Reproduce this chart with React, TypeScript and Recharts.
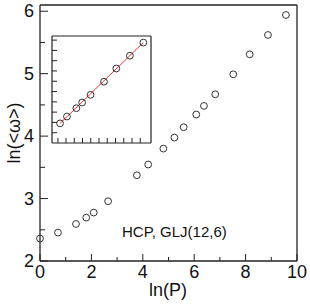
import { ScatterChart, Scatter, XAxis, YAxis } from 'recharts';

// ln(P) vs ln(<omega>), main panel
const lnP = [0, 0.7, 1.4, 1.8, 2.09, 2.65, 3.77, 4.21, 4.8, 5.23, 5.59, 6.08, 6.38, 6.82, 7.52, 8.16, 8.87, 9.57];
const lnW = [2.36, 2.455, 2.593, 2.695, 2.776, 2.957, 3.373, 3.545, 3.8, 3.977, 4.143, 4.346, 4.484, 4.67, 4.99, 5.31, 5.62, 5.94];

// inset: high pressure points with fitted line
const insetP = [5.23, 5.59, 6.08, 6.38, 6.82, 7.52, 8.16, 8.87, 9.57];
const insetW = [3.977, 4.143, 4.346, 4.484, 4.67, 4.99, 5.31, 5.62, 5.94];
const fitP = [5.23, 9.57];
const fitW = [3.977, 5.94];

const xTicks = [0, 1, 2, 3, 4, 5, 6, 7, 8, 9, 10];
const yTicks = [2, 2.5, 3, 3.5, 4, 4.5, 5, 5.5, 6];
const insetXTicks = [5.12, 5.54, 5.97, 6.4, 6.83, 7.26, 7.69, 8.12, 8.55, 8.98, 9.41];
const insetYTicks = [3.75, 4, 4.25, 4.5, 4.75, 5, 5.25, 5.5, 5.75, 6];

const mainData = lnP.map((x, i) => ({ x, y: lnW[i] }));
const insetData = insetP.map((x, i) => ({ x, y: insetW[i] }));
const fitData = fitP.map((x, i) => ({ x, y: fitW[i] }));

const FONT = '"Liberation Sans", Arial, sans-serif';
const AX = '#222';

const Circle = (props: any) => (
  <circle cx={props.cx} cy={props.cy} r={3.4} fill="none" stroke="#333" strokeWidth={1} />
);

// ticks drawn inward, label outside
const XTick = (props: any) => {
  const { x, y, payload } = props;
  const v = payload.value;
  const major = Number.isInteger(v) && v % 2 === 0;
  const len = major ? 7 : 4;
  const axisY = y - 2;
  return (
    <g>
      <line x1={x} x2={x} y1={axisY} y2={axisY - len} stroke={AX} strokeWidth={1} />
      {major && (
        <text x={x} y={axisY + 17} textAnchor="middle" fontSize={18} fontFamily={FONT} fill="#111">
          {v}
        </text>
      )}
    </g>
  );
};

const YTick = (props: any) => {
  const { x, y, payload } = props;
  const v = payload.value;
  const major = Number.isInteger(v);
  const len = major ? 8 : 5;
  const axisX = x + 2;
  return (
    <g>
      <line x1={axisX} x2={axisX + len} y1={y} y2={y} stroke={AX} strokeWidth={1} />
      {major && (
        <text x={axisX - 6} y={y + 6} textAnchor="end" fontSize={18} fontFamily={FONT} fill="#111">
          {v}
        </text>
      )}
    </g>
  );
};

const InXTick = (props: any) => {
  const { x, y } = props;
  return <line x1={x} x2={x} y1={y - 2} y2={y - 7} stroke={AX} strokeWidth={1} />;
};
const InYTick = (props: any) => {
  const { x, y } = props;
  return <line x1={x + 2} x2={x + 7} y1={y} y2={y} stroke={AX} strokeWidth={1} />;
};

export default function App() {
  return (
    <div style={{ position: 'absolute', left: 0, top: 0, width: 310, height: 308, background: '#fff' }}>
      <ScatterChart width={310} height={308} margin={{ top: 4, right: 12, bottom: 17, left: 0 }}>
        <XAxis
          type="number"
          dataKey="x"
          domain={[0, 10]}
          ticks={xTicks}
          interval={0}
          height={30}
          tickSize={0}
          tickMargin={2}
          tick={<XTick />}
          axisLine={{ stroke: AX, strokeWidth: 1.3 }}
          tickLine={false}
        />
        <XAxis xAxisId="top" orientation="top" type="number" domain={[0, 10]} height={1} tick={false} tickLine={false} axisLine={{ stroke: AX, strokeWidth: 1.3 }} />
        <YAxis
          type="number"
          dataKey="y"
          domain={[2, 6.1]}
          ticks={yTicks}
          interval={0}
          width={40}
          tickSize={0}
          tickMargin={2}
          tick={<YTick />}
          axisLine={{ stroke: AX, strokeWidth: 1.3 }}
          tickLine={false}
        />
        <YAxis yAxisId="right" orientation="right" type="number" domain={[2, 6.1]} width={1} tick={false} tickLine={false} axisLine={{ stroke: AX, strokeWidth: 1.3 }} />
        <Scatter data={mainData} shape={<Circle />} isAnimationActive={false} />
        <text x={168} y={296} textAnchor="middle" fontSize={18} fontFamily={FONT} fill="#111">ln(P)</text>
        <text x={20} y={133} transform="rotate(-90 20 133)" textAnchor="middle" fontSize={18} fontFamily={FONT} fill="#111">ln(&lt;ω&gt;)</text>
        <text x={122} y={237} fontSize={15} fontFamily={FONT} fill="#111">HCP, GLJ(12,6)</text>
      </ScatterChart>
      <div style={{ position: 'absolute', left: 51, top: 35 }}>
        <ScatterChart width={101} height={109} margin={{ top: 0, right: 0, bottom: 0, left: 0 }}>
          <XAxis type="number" dataKey="x" domain={[4.81, 9.97]} ticks={insetXTicks} interval={0} height={1} tickSize={0} tickMargin={2} tick={<InXTick />} tickLine={false} axisLine={{ stroke: AX, strokeWidth: 1.2 }} />
          <XAxis xAxisId="top" orientation="top" type="number" domain={[4.81, 9.97]} height={1} tick={false} tickLine={false} axisLine={{ stroke: AX, strokeWidth: 1.2 }} />
          <YAxis type="number" dataKey="y" domain={[3.5, 6.1]} ticks={insetYTicks} interval={0} width={1} tickSize={0} tickMargin={2} tick={<InYTick />} tickLine={false} axisLine={{ stroke: AX, strokeWidth: 1.2 }} />
          <YAxis yAxisId="right" orientation="right" type="number" domain={[3.5, 6.1]} width={1} tick={false} tickLine={false} axisLine={{ stroke: AX, strokeWidth: 1.2 }} />
          <Scatter data={fitData} line={{ stroke: '#e8322a', strokeWidth: 1 }} shape={() => null} isAnimationActive={false} />
          <Scatter data={insetData} shape={<Circle />} isAnimationActive={false} />
        </ScatterChart>
      </div>
    </div>
  );
}
